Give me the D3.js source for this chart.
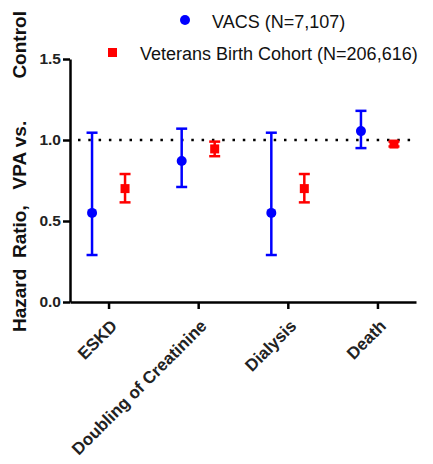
<!DOCTYPE html>
<html>
<head>
<meta charset="utf-8">
<script src="https://cdn.jsdelivr.net/npm/d3@7"></script>
<style>
  body { margin: 0; background: #fff; }
  text { font-family: "Liberation Sans", Arial, sans-serif; }
</style>
</head>
<body>
<div id="chart"></div>
<script>
// data
var outcomes = ["ESKD", "Doubling of Creatinine", "Dialysis", "Death"];
var vacsHR = [0.55, 0.87, 0.55, 1.055];
var vacsLow = [0.29, 0.71, 0.29, 0.95];
var vacsHigh = [1.045, 1.07, 1.045, 1.18];
var vbcHR = [0.70, 0.945, 0.70, 0.975];
var vbcLow = [0.615, 0.90, 0.615, 0.96];
var vbcHigh = [0.79, 0.99, 0.79, 0.99];
var yTicks = [0.0, 0.5, 1.0, 1.5];

var svgWidth = 433, svgHeight = 464;
var margin = { top: 59, right: 17, bottom: 162, left: 70 };
var chartWidth = svgWidth - margin.left - margin.right;
var chartHeight = svgHeight - margin.top - margin.bottom;

var svg = d3.select("#chart").append("svg")
    .attr("width", svgWidth)
    .attr("height", svgHeight);

var chartGroup = svg.append("g")
    .attr("transform", `translate(${margin.left}, ${margin.top})`);

var x = d3.scalePoint()
    .domain(outcomes)
    .range([0, chartWidth])
    .padding(0.43);

var y = d3.scaleLinear()
    .domain([0, 1.5])
    .range([chartHeight, 0]);

// axes
var leftAxis = d3.axisLeft(y).tickValues(yTicks).tickFormat(d3.format(".1f")).tickSize(7).tickSizeOuter(0);
var yAxis = chartGroup.append("g").call(leftAxis);
yAxis.select(".domain").attr("stroke", "#000").attr("stroke-width", 2.5);
yAxis.selectAll(".tick line").attr("stroke-width", 2.5);
yAxis.selectAll(".tick text")
    .attr("font-size", 15.5).attr("font-weight", "bold").attr("fill", "#222")
    .attr("x", -9);

var bottomAxis = d3.axisBottom(x).tickSize(7).tickSizeOuter(0);
var xAxis = chartGroup.append("g")
    .attr("transform", `translate(0,${chartHeight})`)
    .call(bottomAxis);
xAxis.select(".domain").attr("stroke-width", 2.5);
xAxis.selectAll(".tick line").attr("stroke-width", 2.5);
xAxis.selectAll(".tick text")
    .attr("font-size", 17).attr("font-weight", "bold").attr("fill", "#222")
    .attr("text-anchor", "end")
    .attr("dy", 0)
    .attr("transform", "translate(2,18) rotate(-45)");

// reference line at HR = 1
chartGroup.append("line")
    .attr("x1", 8).attr("x2", chartWidth - 2)
    .attr("y1", y(1)).attr("y2", y(1))
    .attr("stroke", "#000")
    .attr("stroke-width", 2.5)
    .attr("stroke-dasharray", "2.5,7.8");

// error bars
function drawSeries(hr, lo, hi, dx, color, shape) {
    var g = chartGroup.append("g");
    var capW = 5.5;
    outcomes.forEach(function (d, i) {
        var cx = x(d) + dx;
        g.append("line").attr("x1", cx).attr("x2", cx)
            .attr("y1", y(lo[i])).attr("y2", y(hi[i]))
            .attr("stroke", color).attr("stroke-width", 2.5);
        [lo[i], hi[i]].forEach(function (v) {
            g.append("line").attr("x1", cx - capW).attr("x2", cx + capW)
                .attr("y1", y(v)).attr("y2", y(v))
                .attr("stroke", color).attr("stroke-width", 2.5);
        });
        if (shape === "circle") {
            g.append("circle").attr("cx", cx).attr("cy", y(hr[i])).attr("r", 5).attr("fill", color);
        } else {
            g.append("rect").attr("x", cx - 4.5).attr("y", y(hr[i]) - 4.5)
                .attr("width", 9).attr("height", 9).attr("fill", color);
        }
    });
}
drawSeries(vacsHR, vacsLow, vacsHigh, -16.5, "#0000ff", "circle");
drawSeries(vbcHR, vbcLow, vbcHigh, 16.5, "#ff0000", "square");

// legend
svg.append("circle").attr("cx", 185).attr("cy", 20).attr("r", 5).attr("fill", "#0000ff");
svg.append("text").attr("x", 212).attr("y", 28).attr("font-size", 18).attr("fill", "#111")
    .text("VACS (N=7,107)");
svg.append("rect").attr("x", 108).attr("y", 48).attr("width", 9).attr("height", 9).attr("fill", "#ff0000");
svg.append("text").attr("x", 140).attr("y", 60).attr("font-size", 18).attr("fill", "#111")
    .text("Veterans Birth Cohort (N=206,616)");

// y title
svg.append("text")
    .attr("transform", "translate(26,332) rotate(-90)")
    .attr("text-anchor", "start")
    .attr("font-size", 19).attr("font-weight", "bold").attr("fill", "#111")
    .style("white-space", "pre")
    .text("Hazard  Ratio,   VPA vs.        Control");
</script>
</body>
</html>
